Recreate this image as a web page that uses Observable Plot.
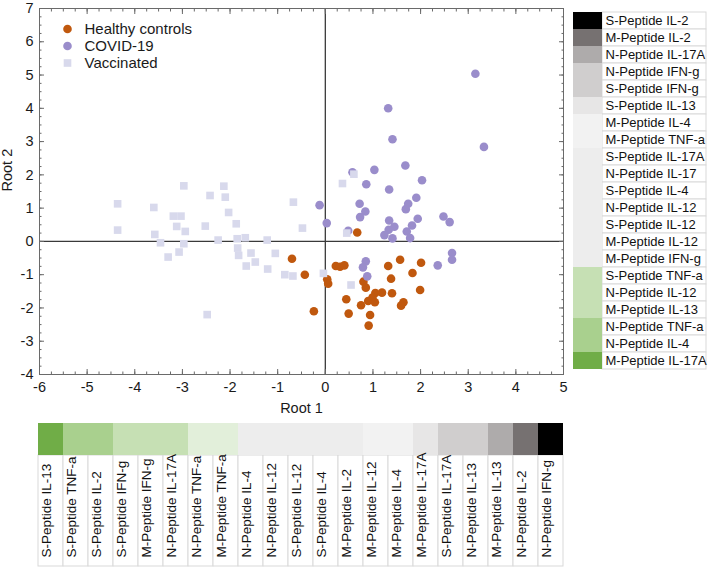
<!DOCTYPE html>
<html><head><meta charset="utf-8">
<script src="https://cdn.jsdelivr.net/npm/d3@7"></script>
<script src="https://cdn.jsdelivr.net/npm/@observablehq/plot@0.6"></script>
<style>
html,body{margin:0;padding:0;background:#fff;}
#wrap{position:relative;width:709px;height:567px;overflow:hidden;font-family:"Liberation Sans",Arial,sans-serif;background:#fff;}
#wrap > div{position:absolute;}
svg{overflow:visible;display:block;}
</style></head><body><div id="wrap">
<div id="scatter" style="left:0;top:0"></div>
<div id="key" style="left:55px;top:20px"></div>
<div id="right" style="left:573px;top:2px"></div>
<div id="bottom" style="left:37px;top:423px"></div>
</div>
<script>
// ---- data ----
const groups = ["Healthy controls", "COVID-19", "Vaccinated"];
const groupColors = ["#c0580e", "#9a8dcb", "#d8d9ec"];
const groupSymbols = ["circle", "circle", "square"];

const healthy = [[0.67,0.27],[-0.7,-0.52],[-0.43,-1.0],[0.22,-0.74],[0.31,-0.76],[0.4,-0.72],[0.04,-1.14],[0.06,-1.27],[-0.24,-2.1],[0.44,-1.74],[0.49,-2.17],[1.32,-0.74],[1.57,-0.55],[2.01,-0.64],[1.83,-0.95],[1.38,-1.12],[0.8,-1.21],[0.85,-1.39],[1.99,-1.46],[1.05,-1.55],[1.19,-1.54],[0.99,-1.69],[0.9,-1.79],[1.04,-1.83],[0.75,-1.92],[1.4,-1.56],[1.64,-1.83],[1.59,-1.93],[0.94,-2.21],[0.91,-2.53]];

const covid = [[3.15,5.04],[1.32,4.0],[1.41,3.07],[3.33,2.84],[1.68,2.28],[1.03,2.15],[0.57,2.08],[2.03,1.84],[0.86,1.72],[1.34,1.56],[1.91,1.31],[0.72,1.13],[1.74,1.13],[-0.12,1.09],[0.03,0.55],[0.48,0.32],[0.84,0.9],[0.73,0.73],[1.69,0.97],[1.94,0.68],[1.82,0.48],[1.71,0.3],[1.78,0.1],[1.34,0.63],[1.45,0.44],[1.33,0.35],[1.24,0.19],[1.41,0.09],[2.48,0.75],[2.61,0.58],[2.66,-0.35],[2.66,-0.55],[2.36,-0.72],[0.85,-0.6],[0.79,-0.78],[0.88,-1.05]];

const vaccinated = [[-4.36,1.13],[-4.36,0.34],[-3.6,1.02],[-3.58,0.21],[-3.46,-0.04],[-3.3,-0.47],[-3.19,0.76],[-3.03,0.76],[-3.12,0.45],[-2.94,0.3],[-3.07,-0.32],[-2.97,-0.07],[-2.97,1.67],[-2.52,0.46],[-2.48,-2.2],[-2.42,1.38],[-2.13,1.66],[-2.1,1.33],[-2.03,0.87],[-2.25,0.04],[-1.87,0.53],[-1.85,0.08],[-1.68,0.11],[-1.84,-0.2],[-1.82,-0.42],[-1.56,-0.35],[-1.47,-0.62],[-1.66,-0.74],[-1.22,0.04],[-1.05,-0.36],[-1.21,-0.83],[-0.85,-1.0],[-0.68,-1.04],[-0.67,1.18],[-0.48,0.4],[-0.04,-0.96],[0.36,1.74],[0.6,2.02],[0.45,0.25],[0.54,-1.31]];

const xTicks = [-6,-5,-4,-3,-2,-1,0,1,2,3,4,5];
const yTicks = [-4,-3,-2,-1,0,1,2,3,4,5,6,7];

const rightLabels = ["S-Peptide IL-2","M-Peptide IL-2","N-Peptide IL-17A","N-Peptide IFN-g","S-Peptide IFN-g","S-Peptide IL-13","M-Peptide IL-4","M-Peptide TNF-a","S-Peptide IL-17A","N-Peptide IL-17","S-Peptide IL-4","N-Peptide IL-12","S-Peptide IL-12","M-Peptide IL-12","M-Peptide IFN-g","S-Peptide TNF-a","N-Peptide IL-12","M-Peptide IL-13","N-Peptide TNF-a","N-Peptide IL-4","M-Peptide IL-17A"];
const rightColors = ["#000000","#767171","#aeabab","#d0cece","#d0cece","#e7e6e6","#f2f2f2","#f2f2f2","#ededed","#ededed","#ededed","#ededed","#ededed","#ededed","#ededed","#c6e0b4","#c6e0b4","#c6e0b4","#a9d08e","#a9d08e","#70ad47"];

const bottomLabels = ["S-Peptide IL-13","S-Peptide TNF-a","S-Peptide IL-2","S-Peptide IFN-g","M-Peptide IFN-g","N-Peptide IL-17A","N-Peptide TNF-a","M-Peptide TNF-a","N-Peptide IL-4","N-Peptide IL-12","S-Peptide IL-12","S-Peptide IL-4","M-Peptide IL-2","M-Peptide IL-12","M-Peptide IL-4","M-Peptide IL-17A","S-Peptide IL-17A","N-Peptide IL-13","M-Peptide IL-13","N-Peptide IL-2","N-Peptide IFN-g"];
const bottomColors = ["#70ad47","#a9d08e","#a9d08e","#c6e0b4","#c6e0b4","#c6e0b4","#e2efda","#e2efda","#ededed","#ededed","#ededed","#ededed","#ededed","#f2f2f2","#f2f2f2","#e7e6e6","#d0cece","#d0cece","#aeabab","#767171","#000000"];

// ---- build ----
const font = "Liberation Sans, Arial, sans-serif";
const baseStyle = {fontFamily: font, color: "#1a1a1a", background: "transparent", overflow: "visible"};
const toRows = (arr, g) => arr.map(([x, y]) => ({x, y, group: g}));
const minorX = d3.range(-6, 5.0001, 0.25);
const minorY = d3.range(-4, 7.0001, 0.25);
const fmt = d => String(d);

const scatter = Plot.plot({
  width: 573, height: 420,
  marginLeft: 39, marginRight: 10, marginTop: 8, marginBottom: 46,
  x: {domain: [-6, 5]},
  y: {domain: [-4, 7]},
  symbol: {domain: groups, range: groupSymbols},
  color: {domain: groups, range: groupColors},
  style: {...baseStyle, fontSize: "14.5px"},
  marks: [
    Plot.ruleX([0], {stroke: "#3a3a3a", strokeWidth: 1.3}),
    Plot.ruleY([0], {stroke: "#3a3a3a", strokeWidth: 1.3}),
    Plot.dot(toRows(healthy, groups[0]), {x: "x", y: "y", r: 4.3, fill: "group", symbol: "group"}),
    Plot.dot(toRows(covid, groups[1]), {x: "x", y: "y", r: 4.3, fill: "group", symbol: "group"}),
    Plot.dot(toRows(vaccinated, groups[2]), {x: "x", y: "y", r: 4.3, fill: "group", symbol: "group"}),
    Plot.frame({stroke: "#6a6a6a"}),
    Plot.axisX(xTicks, {tickSize: 0, tickPadding: 7, tickFormat: fmt, label: null}),
    Plot.axisY(yTicks, {tickSize: 0, tickPadding: 6, tickFormat: fmt, label: null}),
    Plot.axisX(xTicks, {anchor: "bottom", tickSize: -5, fill: "none", stroke: "#6a6a6a", label: null}),
    Plot.axisX(xTicks, {anchor: "top", tickSize: -5, fill: "none", stroke: "#6a6a6a", label: null}),
    Plot.axisY(yTicks, {anchor: "left", tickSize: -5, fill: "none", stroke: "#6a6a6a", label: null}),
    Plot.axisY(yTicks, {anchor: "right", tickSize: -5, fill: "none", stroke: "#6a6a6a", label: null}),
    Plot.axisX(minorX, {anchor: "bottom", tickSize: -2.5, fill: "none", stroke: "#6a6a6a", label: null}),
    Plot.axisX(minorX, {anchor: "top", tickSize: -2.5, fill: "none", stroke: "#6a6a6a", label: null}),
    Plot.axisY(minorY, {anchor: "left", tickSize: -2.5, fill: "none", stroke: "#6a6a6a", label: null}),
    Plot.axisY(minorY, {anchor: "right", tickSize: -2.5, fill: "none", stroke: "#6a6a6a", label: null}),
    Plot.text(["Root 1"], {frameAnchor: "bottom", dy: 38, fontSize: 14.5}),
    Plot.text(["Root 2"], {frameAnchor: "left", dx: -32, rotate: -90, fontSize: 14.5})
  ]
});
document.getElementById("scatter").appendChild(scatter);

const key = Plot.plot({
  width: 150, height: 51, margin: 0,
  y: {type: "band", domain: groups, padding: 0, axis: null},
  symbol: {domain: groups, range: groupSymbols},
  color: {domain: groups, range: groupColors},
  style: {...baseStyle, fontSize: "15px"},
  marks: [
    Plot.dot(groups, {y: d => d, frameAnchor: "left", dx: 12, r: 4.3, fill: d => d, symbol: d => d}),
    Plot.text(groups, {y: d => d, text: d => d, frameAnchor: "left", dx: 29, textAnchor: "start", fontSize: 15})
  ]
});
document.getElementById("key").appendChild(key);

const rightRows = rightLabels.map((label, i) => ({i, label, color: rightColors[i]}));
const right = Plot.plot({
  width: 136, height: 376, margin: 0,
  y: {type: "band", domain: d3.range(rightRows.length), padding: 0, axis: null},
  color: {type: "identity"},
  style: {...baseStyle, fontSize: "13px"},
  marks: [
    Plot.cell(rightRows, {y: "i", fill: "#ffffff", stroke: "#d9d9d9", insetLeft: 29, insetRight: 3}),
    Plot.cell(rightRows, {y: "i", fill: "color", insetRight: 107}),
    Plot.text(rightRows, {y: "i", text: "label", frameAnchor: "left", dx: 32, textAnchor: "start", fontSize: 13, fill: "#111"})
  ]
});
document.getElementById("right").appendChild(right);

const bottomRows = bottomLabels.map((label, i) => ({i, label, color: bottomColors[i]}));
const bottom = Plot.plot({
  width: 527, height: 144, margin: 0,
  x: {type: "band", domain: d3.range(bottomRows.length), padding: 0, axis: null},
  color: {type: "identity"},
  style: {...baseStyle, fontSize: "13.5px"},
  marks: [
    Plot.cell(bottomRows, {x: "i", fill: "#ffffff", stroke: "#d9d9d9", insetTop: 32, insetBottom: 1}),
    Plot.cell(bottomRows, {x: "i", fill: "color", insetBottom: 112}),
    Plot.text(bottomRows, {x: "i", text: "label", frameAnchor: "bottom", dy: -10, rotate: -90, textAnchor: "start", fontSize: 13.5, fill: "#111"})
  ]
});
document.getElementById("bottom").appendChild(bottom);
</script>
</body></html>
